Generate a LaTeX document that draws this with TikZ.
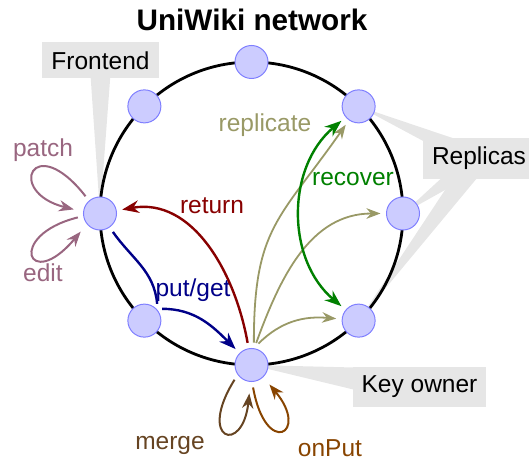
\documentclass[tikz,border=0pt]{standalone}
\usepackage{fontspec}
\setmainfont{Liberation Sans}
\usetikzlibrary{calc,arrows.meta,backgrounds}

\definecolor{peerfill}{HTML}{CCCCFF}
\definecolor{peerline}{HTML}{7F7FFF}
\definecolor{callout}{HTML}{E6E6E6}
\definecolor{cpatch}{HTML}{996680}
\definecolor{creturn}{HTML}{880000}
\definecolor{cput}{HTML}{000088}
\definecolor{crepl}{HTML}{999966}
\definecolor{crecover}{HTML}{008000}
\definecolor{cmerge}{HTML}{664422}
\definecolor{conput}{HTML}{884400}

\tikzset{
  peer/.style={circle, fill=peerfill, draw=peerline, line width=0.5pt, minimum size=16.5pt, inner sep=0pt, outer sep=3pt},
  note/.style={fill=callout, inner sep=4.5pt, font=\fontsize{12.25}{14}\selectfont},
  lbl/.style={font=\fontsize{12.25}{14}\selectfont, inner sep=1pt},
  flow/.style={-{Stealth}, line width=1.2pt},
  thin flow/.style={-{Stealth}, line width=0.9pt},
  loop flow/.style={-{Stealth}, line width=1pt, shorten >=2pt},
}

\begin{document}
\begin{tikzpicture}[x=0.5pt, y=0.5pt]
        \useasboundingbox (0,0) rectangle (529,460);
        %TITLE
        \node[font=\fontsize{14.85}{17}\selectfont\bfseries] (title) at (252,440) {UniWiki network};
        %RING
        \coordinate (c) at (251.5,246.5);
        \foreach \a/\n in {90/n1, 135/n2, 180/fe, 225/n4, 270/ko, 315/br, 0/rt, 45/tr}
            \node[peer] (\n) at ($(c)+(\a:151.5)$) {};
        %CALLOUTS
        \node[note] (fnote) at (100.5,399.5) {Frontend};
        \node[note] (rnote) at (479,301.5) {Replicas};
        \node[note] (knote) at (419.5,73) {Key owner};
        \begin{scope}[on background layer]
            \fill[callout] (fe.center) -- ($(fnote.center)+(-11,0)$) -- ($(fnote.center)+(11,0)$) -- cycle;
            \foreach \n in {tr, rt, br}
                \fill[callout] (\n.center) -- ($(rnote.center)!5.5pt!90:(\n.center)$) -- ($(rnote.center)!5.5pt!-90:(\n.center)$) -- cycle;
            \fill[callout] (ko.center) -- ($(knote.center)!9pt!90:(ko.center)$) -- ($(knote.center)!9pt!-90:(ko.center)$) -- cycle;
            \draw[line width=1.4pt] (c) circle[radius=151.5];
        \end{scope}
        %FRONTEND
        \draw[loop flow, cpatch] (fe.130) .. controls +(128:85) and +(166:75) .. (fe.172);
        \node[lbl, text=cpatch] (patch) at (43,310) {patch};
        \draw[loop flow, cpatch] (fe.190) .. controls +(194:75) and +(230:85) .. (fe.222);
        \node[lbl, text=cpatch] (edit) at (43,187) {edit};
        %PUT/GET AND RETURN
        \node[lbl, text=cput] (pg) at (193,170) {put/get};
        \draw[cput, line width=1.2pt] (fe) to[out=-55, in=95] ([xshift=2pt]pg.south west);
        \draw[flow, cput] ([xshift=4.5pt, yshift=-2.5pt]pg.south west) to[out=0, in=135] (ko);
        \draw[flow, creturn] (ko) to[out=100, in=10] (fe);
        \node[lbl, text=creturn] (ret) at (212,254) {return};
        %REPLICATE
        \node[lbl, text=crepl] (repl) at (265,335) {replicate};
        \draw[thin flow, crepl] (ko.84) to[out=90, in=235, looseness=1.25] (tr);
        \draw[thin flow, crepl] (ko.78) to[out=70, in=180] (rt);
        \draw[thin flow, crepl] (ko.72) to[out=45, in=175] (br);
        %RECOVER
        \draw[{Stealth}-{Stealth}, crecover, line width=1.2pt] (tr) to[bend right=50] (br);
        \node[lbl, text=crecover] (rec) at (353,281) {recover};
        %KEY OWNER
        \draw[loop flow, cmerge, shorten >=3pt] (ko.221) .. controls +(238:72) and +(264:68) .. (ko.266);
        \node[lbl, text=cmerge] (merge) at (170,15) {merge};
        \draw[loop flow, conput] (ko.274) .. controls +(280:72) and +(310:68) .. (ko.313);
        \node[lbl, text=conput] (onput) at (330,12) {onPut};
    \end{tikzpicture}
\end{document}
